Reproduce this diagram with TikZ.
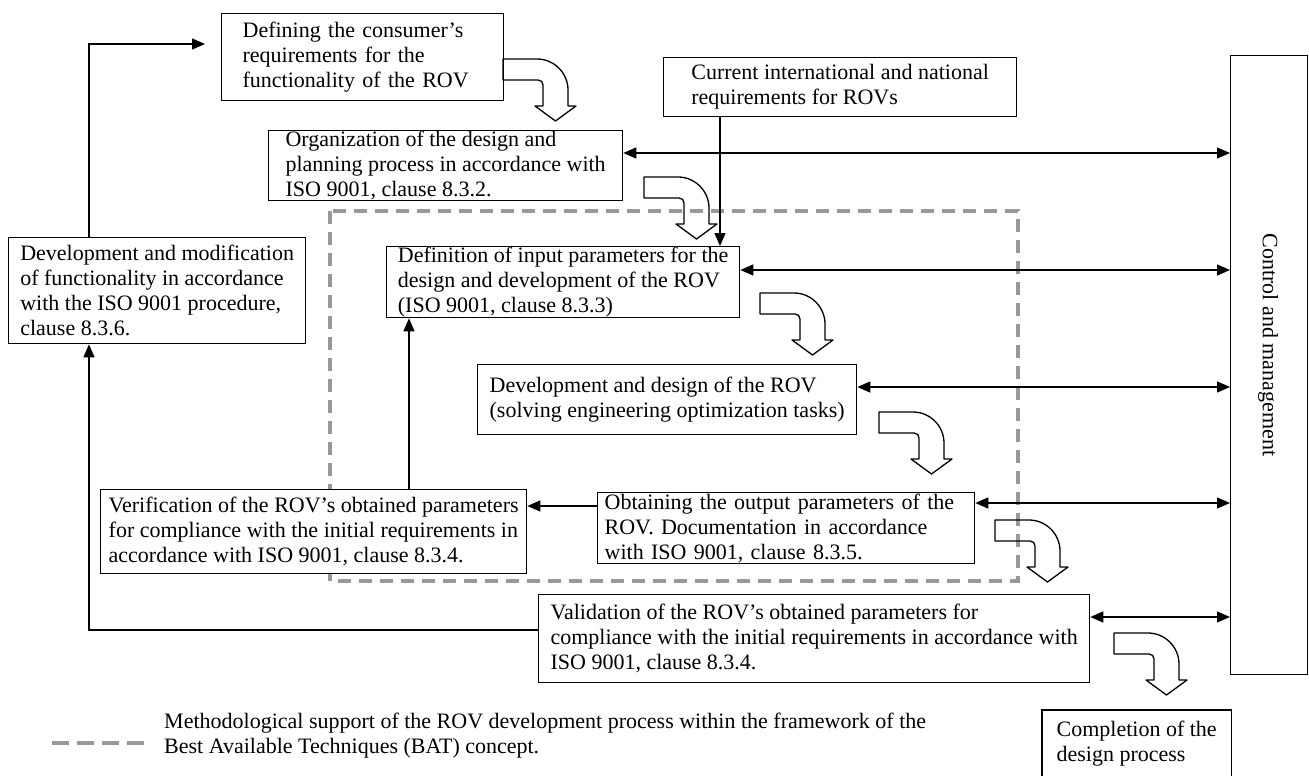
\documentclass[tikz,border=0pt]{standalone}
\usepackage{fontspec}
\setmainfont{Liberation Serif}
\usetikzlibrary{arrows.meta}

\begin{document}
\begin{tikzpicture}[x=1pt, y=-1pt, >={Triangle[length=13pt,width=11pt]},
    stepbox/.style={draw, fill=white, line width=1.3pt, align=left, anchor=north west, inner sep=0pt, font=\fontsize{22}{25}\selectfont},
    note/.style={align=left, inner sep=0pt, font=\fontsize{22}{25}\selectfont},
    link/.style={line width=1.3pt},
    batline/.style={draw=black!40, line width=4.5pt, dash pattern=on 13pt off 8pt},
    bentarrow/.pic={
        \draw[line width=1.3pt, line join=round] (0,0) -- (34,0) .. controls (51,0) and (65,14) .. (65,31) -- (65,47) -- (73,47) -- (52.5,62) -- (32,47) -- (40,47) -- (40,26) .. controls (40,23) and (38,21) .. (35,21) -- (0,21) -- cycle;
    }]
    \useasboundingbox (0,0) rectangle (1309,776);

    % Khung BAT (nét đứt)
    \draw[batline] (330,211) rectangle (1018,581);

    % Các khối
    \node[stepbox, minimum width=282, minimum height=87, text width=240] (consumer) at (221,13) {Defining the consumer's\\ requirements for the\\ functionality of the ROV};
    \node[stepbox, minimum width=354, minimum height=70] (organize) at (268,130) {Organization of the design and\\ planning process in accordance with\\ ISO 9001, clause 8.3.2.};
    \node[stepbox, minimum width=353, minimum height=59] (current) at (663,57) {Current international and national\\ requirements for ROVs};
    \node[stepbox, minimum width=297, minimum height=106] (modify) at (8,237) {Development and modification\\ of functionality in accordance\\ with the ISO 9001 procedure,\\ clause 8.3.6.};
    \node[stepbox, minimum width=353, minimum height=71] (define) at (386,246) {Definition of input parameters for the\\ design and development of the ROV\\ (ISO 9001, clause 8.3.3)};
    \node[stepbox, minimum width=379, minimum height=70] (develop) at (477,364) {Development and design of the ROV\\ (solving engineering optimization tasks)};
    \node[stepbox, minimum width=377, minimum height=71, text width=363] (output) at (597,492) {Obtaining the output parameters of the\\ ROV. Documentation in accordance\\ with ISO 9001, clause 8.3.5.};
    \node[stepbox, minimum width=426, minimum height=84] (verify) at (100,489) {Verification of the ROV's obtained parameters\\ for compliance with the initial requirements in\\ accordance with ISO 9001, clause 8.3.4.};
    \node[stepbox, minimum width=551, minimum height=88] (valid) at (538,594) {Validation of the ROV's obtained parameters for\\ compliance with the initial requirements in accordance with\\ ISO 9001, clause 8.3.4.};
    \node[stepbox, draw=none, minimum width=188, minimum height=66] (done) at (1042,710) {Completion of the\\ design process};
    \draw[link] (done.south west) -- (done.north west) -- (done.north east) -- (done.south east);

    % Khối điều khiển
    \node[draw, line width=1.3pt, minimum width=77, minimum height=619, anchor=north west] (control) at (1230,55) {};
    \node[note, rotate=-90] (controltext) at (1268,345) {Control and management};

    % Mũi tên hai chiều
    \draw[link, <->] (organize.east |- 0,153) -- (control.west |- 0,153);
    \draw[link, <->] (define.east |- 0,270) -- (control.west |- 0,270);
    \draw[link, <->] (develop.east |- 0,387) -- (control.west |- 0,387);
    \draw[link, <->] (output.east |- 0,503) -- (control.west |- 0,503);
    \draw[link, <->] (valid.east |- 0,617) -- (control.west |- 0,617);

    % Các đường nối
    \coordinate (loopend) at (205,44);
    \draw[link, ->] (current.south -| 720,0) -- (define.north -| 720,0);
    \draw[link, ->] (output.west |- 0,506) -- (verify.east |- 0,506);
    \draw[link, ->] (verify.north -| 409,0) -- (define.south -| 409,0);
    \draw[link, ->] (valid.west |- 0,630) -| (modify.south -| 89,0);
    \draw[link, ->] (modify.north -| 89,0) |- (loopend);

    % Mũi tên cong
    \pic at (503,59) {bentarrow};
    \pic at (644,177) {bentarrow};
    \pic at (760,293) {bentarrow};
    \pic at (879,412) {bentarrow};
    \pic at (995,520) {bentarrow};
    \pic at (1114,633) {bentarrow};

    % Chú thích
    \draw[batline, dash pattern=on 17pt off 8pt] (52,743) -- (144,743);
    \node[note, anchor=west] (legend) at (164,736) {Methodological support of the ROV development process within the framework of the\\ Best Available Techniques (BAT) concept.};
\end{tikzpicture}
\end{document}
